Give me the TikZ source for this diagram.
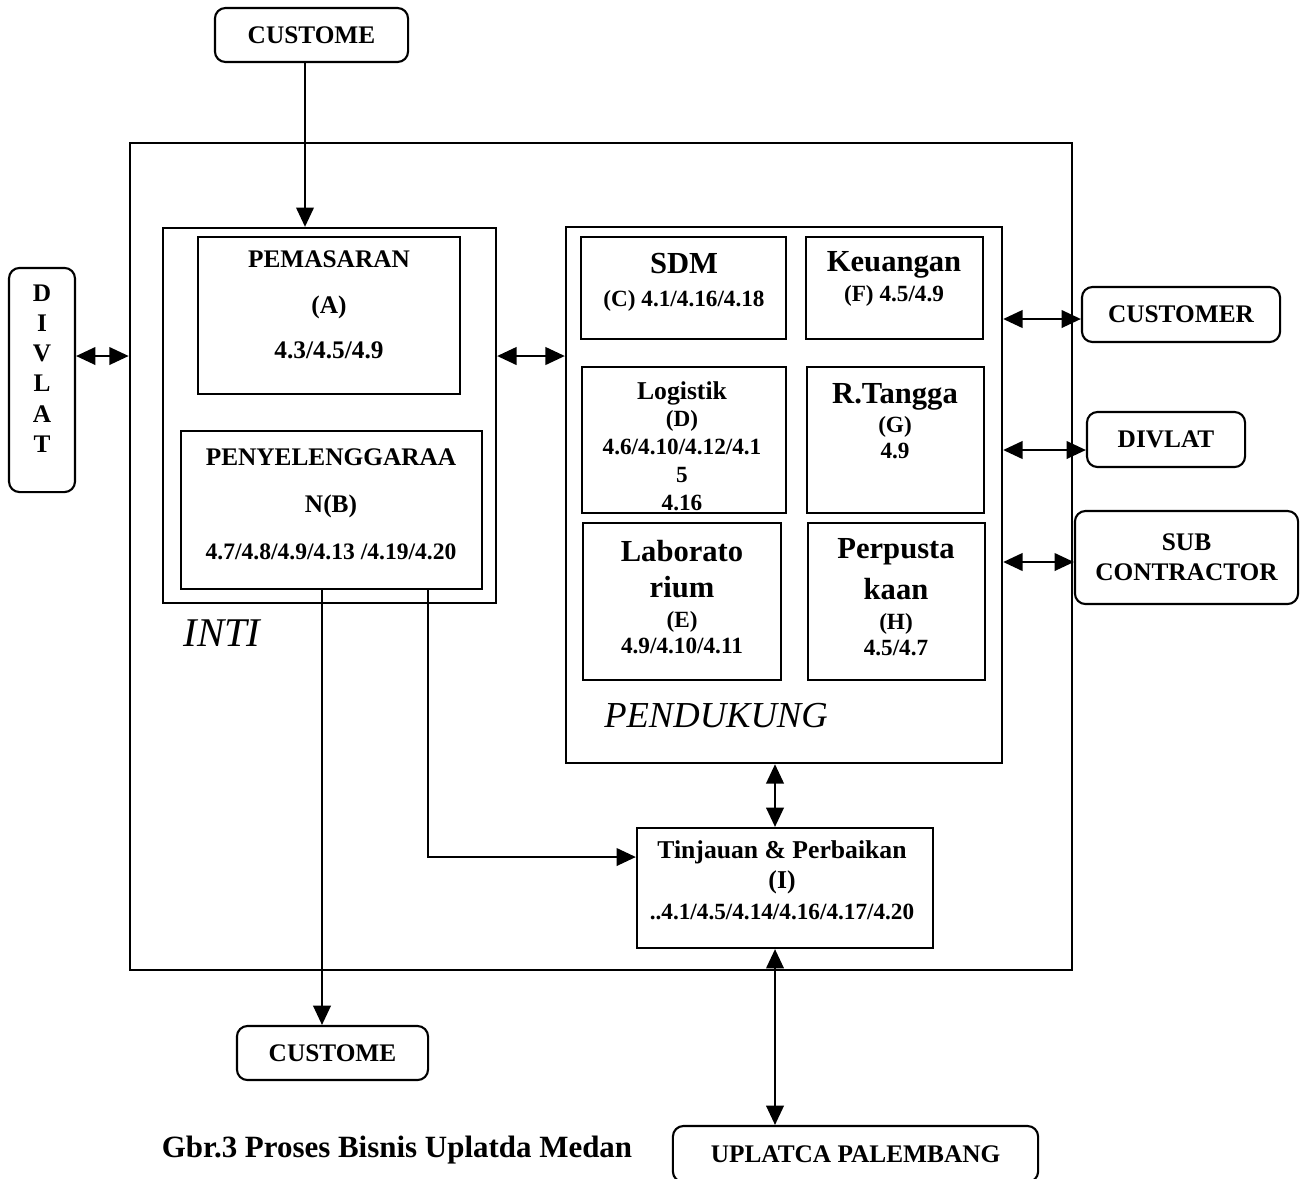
\documentclass[tikz,border=0pt]{standalone}
\usepackage{fontspec}
\setmainfont{Liberation Serif}
\usetikzlibrary{positioning, arrows.meta}

\newcommand{\hdsz}{\fontsize{8.7}{10.5}\selectfont}
\newcommand{\numsz}{\fontsize{6.6}{7.4}\selectfont}
\newcommand{\lblsz}{\fontsize{7.2}{8.6}\selectfont}

\begin{document}
\begin{tikzpicture}[x=0.01cm, y=-0.01cm, line width=0.6pt, >={Triangle[length=5.5pt, width=5pt]},
    box/.style={draw, rectangle, inner sep=0pt},
    rbox/.style={draw, rectangle, rounded corners=3pt, inner sep=0pt, font=\bfseries\lblsz, align=center},
    txt/.style={align=center, inner sep=0pt, font=\bfseries\numsz}]
    \useasboundingbox (0,0) rectangle (1304,1178);

    % outside parties
    \node[rbox, minimum width=1.93cm, minimum height=0.54cm] (custTop) at (311.5,35) {CUSTOME};
    \node[rbox, minimum width=0.66cm, minimum height=2.24cm] (divL) at (42,380) {D\\I\\V\\L\\A\\T\\[-2pt]};
    \node[rbox, minimum width=1.98cm, minimum height=0.55cm] (custR) at (1181,314.5) {CUSTOMER};
    \node[rbox, minimum width=1.58cm, minimum height=0.55cm] (divR) at (1166,439.5) {DIVLAT};
    \node[rbox, minimum width=2.23cm, minimum height=0.93cm] (sub) at (1186.5,557.5) {SUB\\CONTRACTOR};
    \node[rbox, minimum width=1.91cm, minimum height=0.54cm] (custBot) at (332.5,1053) {CUSTOME};
    \node[rbox, minimum width=3.65cm, minimum height=0.56cm] (upl) at (855.5,1154) {UPLATCA PALEMBANG};

    % main frame
    \node[box, minimum width=9.42cm, minimum height=8.27cm] (outer) at (601,556.5) {};

    % inti
    \node[box, minimum width=3.33cm, minimum height=3.75cm] (inti) at (329.5,415.5) {};
    \node[box, minimum width=2.62cm, minimum height=1.57cm] (pem) at (329,315.5) {};
    \node[txt, font=\bfseries\fontsize{7.2}{13}\selectfont] (pemT) at (329,305) {PEMASARAN\\(A)\\4.3/4.5/4.9};
    \node[box, minimum width=3.01cm, minimum height=1.58cm] (peny) at (331.5,510) {};
    \node[txt, font=\bfseries\fontsize{7.2}{13.4}\selectfont] (penyT) at (331,504) {PENYELENGGARAA\\N(B)\\\fontsize{6.7}{13.4}\selectfont 4.7/4.8/4.9/4.13 /4.19/4.20};
    \node[font=\itshape\fontsize{11.6}{13}\selectfont, inner sep=0pt] (intiL) at (222,633) {INTI};

    % pendukung
    \node[box, minimum width=4.36cm, minimum height=5.36cm] (pend) at (784,495) {};
    \node[box, minimum width=2.05cm, minimum height=1.02cm] (sdm) at (683.5,288) {};
    \node[txt] (sdmT) at (684,282) {\hdsz SDM\\[2pt](C) 4.1/4.16/4.18};
    \node[box, minimum width=1.77cm, minimum height=1.02cm] (keu) at (894.5,288) {};
    \node[txt] (keuT) at (894,279) {\hdsz Keuangan\\[1pt](F) 4.5/4.9};
    \node[box, minimum width=2.04cm, minimum height=1.46cm] (log) at (684,440) {};
    \node[txt, font=\bfseries\fontsize{6.6}{7.9}\selectfont] (logT) at (682,446) {\fontsize{7.3}{7.9}\selectfont Logistik\\(D)\\4.6/4.10/4.12/4.1\\5\\4.16};
    \node[box, minimum width=1.77cm, minimum height=1.46cm] (rt) at (895.5,440) {};
    \node[txt] (rtT) at (895,421) {\hdsz R.Tangga\\[1pt](G)\\4.9};
    \node[box, minimum width=1.98cm, minimum height=1.57cm] (lab) at (682,601.5) {};
    \node[txt] (labT) at (682,597) {\hdsz Laborato\\[3pt]\hdsz rium\\[1pt](E)\\4.9/4.10/4.11};
    \node[box, minimum width=1.77cm, minimum height=1.57cm] (pus) at (896.5,601.5) {};
    \node[txt] (pusT) at (896,597) {\hdsz Perpusta\\[3pt]\hdsz kaan\\[1pt](H)\\4.5/4.7};
    \node[font=\itshape\fontsize{10.4}{12}\selectfont, inner sep=0pt] (pendL) at (716,716) {PENDUKUNG};

    % tinjauan
    \node[box, minimum width=2.96cm, minimum height=1.2cm] (tin) at (785,888) {};
    \node[txt, font=\bfseries\fontsize{7.3}{8.6}\selectfont] (tinT) at (782,880) {Tinjauan \& Perbaikan\\(I)\\\fontsize{6.6}{8.6}\selectfont ..4.1/4.5/4.14/4.16/4.17/4.20};

    \node[txt, font=\bfseries\fontsize{8.8}{10}\selectfont] (cap) at (397,1150) {Gbr.3 Proses Bisnis Uplatda Medan};

    % connectors
    \coordinate (rowA) at (0,356);
    \coordinate (rowE) at (0,857);
    \coordinate (colA) at (305,0);
    \coordinate (colB) at (322,0);
    \coordinate (colC) at (428,0);
    \coordinate (colD) at (775,0);
    \draw[->] (custTop.south -| colA) -- (inti.north -| colA);
    \draw[<->] (divL.east |- rowA) -- (outer.west |- rowA);
    \draw[<->] (inti.east |- rowA) -- (pend.west |- rowA);
    \draw[<->] (pend.east |- 0,319) -- (custR.west |- 0,319);
    \draw[<->] (pend.east |- 0,450) -- (divR.west |- 0,450);
    \draw[<->] (pend.east |- 0,562) -- (sub.west |- 0,562);
    \draw[<->] (pend.south -| colD) -- (tin.north -| colD);
    \draw[<->] (tin.south -| colD) -- (upl.north -| colD);
    \draw[->] (peny.south -| colB) -- (custBot.north -| colB);
    \draw[->] (peny.south -| colC) |- (tin.west |- rowE);
\end{tikzpicture}
\end{document}
